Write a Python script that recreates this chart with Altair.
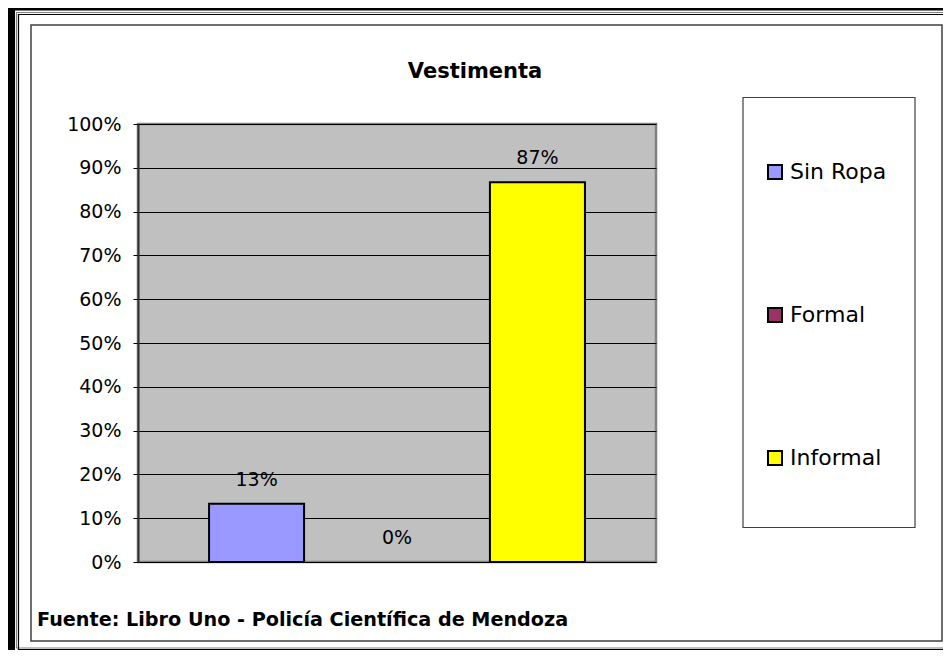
import altair as alt
import pandas as pd

categories = ["Sin Ropa", "Formal", "Informal"]
values = [0.133, 0.0, 0.867]
colors = ["#9999FF", "#993366", "#FFFF00"]
y_ticks = [0, 0.1, 0.2, 0.3, 0.4, 0.5, 0.6, 0.7, 0.8, 0.9, 1.0]
title_text = "Vestimenta"
source_text = "Fuente: Libro Uno - Policía Científica de Mendoza"

df = pd.DataFrame({"cat": categories, "value": values})

FONT = "DejaVu Sans"
W, H = 518, 438
PAD_L, PAD_T = 130, 116
CANVAS_W, CANVAS_H = 935, 642

x_enc = alt.X("cat:N", sort=categories, axis=None,
              scale=alt.Scale(paddingInner=0.3234, paddingOuter=0.506))
y_enc = alt.Y("value:Q",
              scale=alt.Scale(domain=[0, 1], nice=False, zero=True),
              axis=alt.Axis(values=y_ticks, format=".0%", title=None,
                            labelFont=FONT, labelFontSize=19, labelColor="black",
                            labelPadding=12, tickSize=5, tickColor="black",
                            tickWidth=1, domainColor="#333333", domainWidth=2,
                            grid=True, gridColor="black", gridWidth=1,
                            gridOpacity=1))

base = alt.Chart(df)

bars = base.mark_bar(stroke="black", strokeWidth=2).encode(
    x=x_enc,
    y=y_enc,
    fill=alt.Fill("cat:N",
                  scale=alt.Scale(domain=categories, range=colors),
                  legend=alt.Legend(title=None, orient="none",
                                    legendX=626, legendY=37,
                                    symbolType="square", symbolSize=196,
                                    symbolStrokeColor="black",
                                    symbolStrokeWidth=2,
                                    labelFont=FONT, labelFontSize=22,
                                    labelColor="black", labelOffset=4,
                                    rowPadding=121, padding=0)),
    strokeOpacity=alt.condition(alt.datum.value > 0, alt.value(1), alt.value(0)),
)

labels = base.mark_text(font=FONT, fontSize=19, color="black",
                        baseline="middle", dy=-24).encode(
    x=alt.X("cat:N", sort=categories, axis=None),
    y=alt.Y("value:Q"),
    text=alt.Text("value:Q", format=".0%"),
)

one = alt.Data(values=[{"k": 1}])


def frame(x1, x2, y1, y2, **kw):
    return alt.Chart(one).mark_rect(**kw).encode(
        x=alt.value(x1), x2=alt.value(x2), y=alt.value(y1), y2=alt.value(y2))


# decorative frame (relative to plot origin)
L, T = -PAD_L, -PAD_T
R, B = CANVAS_W - PAD_L, CANVAS_H - PAD_T
frames = [
    # thick black outer band (left & top)
    frame(L, L + 7, T, B, fill="black"),
    frame(L, R, T, T + 2.5, fill="black"),
    # double thin lines
    frame(L + 8.5, R + 5, T + 4.5, B - 2, filled=False, stroke="#808080", strokeWidth=1.2),
    frame(L + 10.5, R + 5, T + 6.5, B - 0.5, filled=False, stroke="black", strokeWidth=1.2),
    # inner chart border
    frame(L + 23, R - 1, T + 17, B - 9, filled=False, stroke="#404040", strokeWidth=1.5),
    # legend box
    frame(605, 777, -26.5, 403.5, filled=False, stroke="#404040", strokeWidth=1.2),
]

title = alt.Chart(one).mark_text(font=FONT, fontSize=21, fontWeight="bold",
                                 color="black", align="center",
                                 baseline="middle").encode(
    x=alt.value(337), y=alt.value(-52.5), text=alt.value(title_text))

footer = alt.Chart(one).mark_text(font=FONT, fontSize=19.2, fontWeight="bold",
                                  color="black", align="left",
                                  baseline="middle").encode(
    x=alt.value(-101), y=alt.value(495.5), text=alt.value(source_text))

chart = alt.layer(*frames, bars, labels, title, footer).properties(
    width=W, height=H,
    padding={"left": PAD_L, "top": PAD_T,
             "right": CANVAS_W - PAD_L - W, "bottom": CANVAS_H - PAD_T - H},
    autosize="none",
    background="white",
).configure_view(fill="#C0C0C0", stroke="#808080", strokeWidth=2.5)

chart.save("out.html", embed_options={"renderer": "svg", "actions": False})
